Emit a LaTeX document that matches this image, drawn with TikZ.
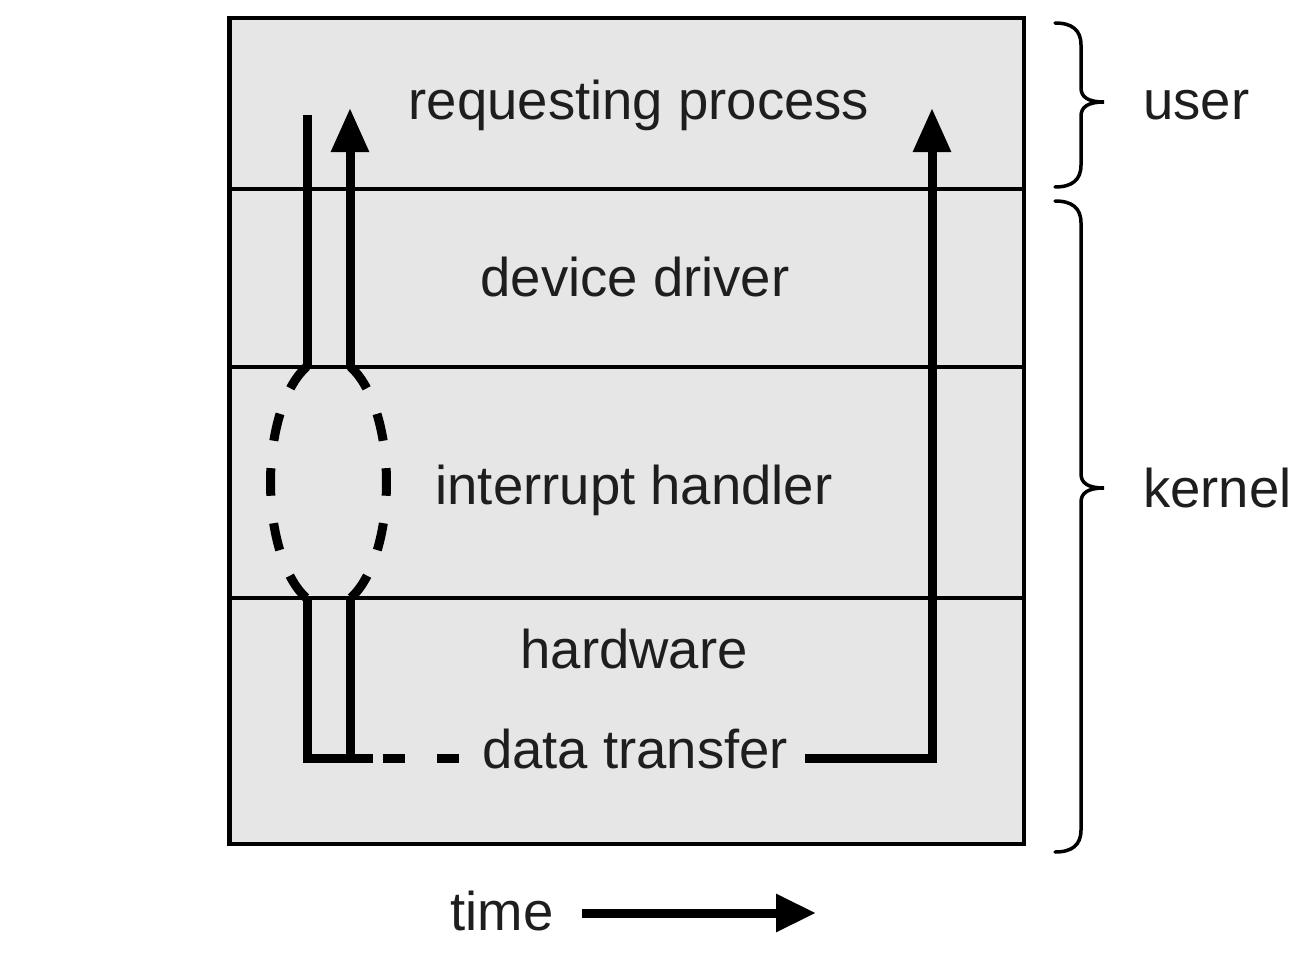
\documentclass[tikz,border=0pt]{standalone}
\usepackage{fontspec}
\setmainfont{Liberation Sans}
\usetikzlibrary{arrows.meta}
\definecolor{boxgray}{HTML}{E6E6E6}
\definecolor{txt}{HTML}{1E1E1E}
\tikzset{
  thickline/.style={line width=9pt, line cap=butt, line join=miter},
  sepline/.style={line width=3.5pt},
  bracestyle/.style={line width=3.5pt, line cap=round},
  label/.style={anchor=base, inner sep=0pt, text=txt, font=\fontsize{54.5}{60}\selectfont},
  sidelabel/.style={label, anchor=base west},
  bigtip/.style={-{Triangle[length=44pt,width=36pt]}},
}
\begin{document}
\begin{tikzpicture}[x=1pt,y=-1pt]
\useasboundingbox (0,0) rectangle (1314,971);
% main box
\draw[fill=boxgray, line width=4.5pt] (229.5,18) rectangle (1024,844);
\draw[sepline] (229.5,189) -- (1024,189);
\draw[sepline] (229.5,367) -- (1024,367);
\draw[sepline] (229.5,598) -- (1024,598);
% labels
\node[label] (req) at (639,120) {requesting process};
\node[label] (dd) at (635,296) {device driver};
\node[label] (ih) at (634,504) {interrupt handler};
\node[label] (hw) at (634,668) {hardware};
\node[label] (dt) at (635,768) {data transfer};
\node[label] (time) at (502,930) {time};
\node[sidelabel] (user) at (1143,120) {user};
\node[sidelabel] (kernel) at (1143,507) {kernel};
% coordinates
\coordinate (l1top) at (307,115);
\coordinate (l1mid) at (307,367);
\coordinate (l2top) at (350,108);
\coordinate (l2mid) at (350,367);
\coordinate (l1low) at (307,598);
\coordinate (l2low) at (350,598);
\coordinate (corner) at (307,758);
\coordinate (l2bot) at (350,758);
\coordinate (solidend) at (373,758);
\coordinate (dashstart) at (383,758);
\coordinate (dashend) at (462,758);
\coordinate (rstart) at (805,758);
\coordinate (rcorner) at (932,758);
\coordinate (rtop) at (932,108);
\coordinate (tstart) at (582,913);
\coordinate (tend) at (816,913);
% upper left lines
\draw[thickline] (l1mid) -- (l1top);
\draw[thickline, bigtip] (l2mid) -- (l2top);
% dashed ellipse (two halves)
\draw[thickline, dash pattern=on 27.6pt off 27.6pt]
  plot[domain=111.8:248.2, samples=80] ({328.5+58*cos(\x)}, {482.5-125*sin(\x)});
\draw[thickline, dash pattern=on 27.6pt off 27.6pt]
  plot[domain=68.2:-68.2, samples=80] ({328.5+58*cos(\x)}, {482.5-125*sin(\x)});
% lower left lines
\draw[thickline] (l1low) -- (corner) -- (solidend);
\draw[thickline] (l2low) -- (l2bot);
\draw[thickline, dash pattern=on 22pt off 32pt] (dashstart) -- (dashend);
% right path
\draw[thickline, bigtip] (rstart) -- (rcorner) -- (rtop);
% time arrow
\draw[thickline, -{Triangle[length=40pt,width=36pt]}] (tstart) -- (tend);
% braces
\draw[bracestyle] (1055,23) .. controls (1072,23) and (1081,30) .. (1081,45)
  -- (1081,88) .. controls (1081,97) and (1088,102) .. (1104,102)
  .. controls (1088,102) and (1081,107) .. (1081,116)
  -- (1081,165) .. controls (1081,180) and (1072,187) .. (1055,187);
\draw[bracestyle] (1055,201) .. controls (1072,201) and (1081,208) .. (1081,223)
  -- (1081,474) .. controls (1081,483) and (1088,488) .. (1104,488)
  .. controls (1088,488) and (1081,493) .. (1081,502)
  -- (1081,830) .. controls (1081,845) and (1072,852) .. (1055,852);
\end{tikzpicture}
\end{document}
